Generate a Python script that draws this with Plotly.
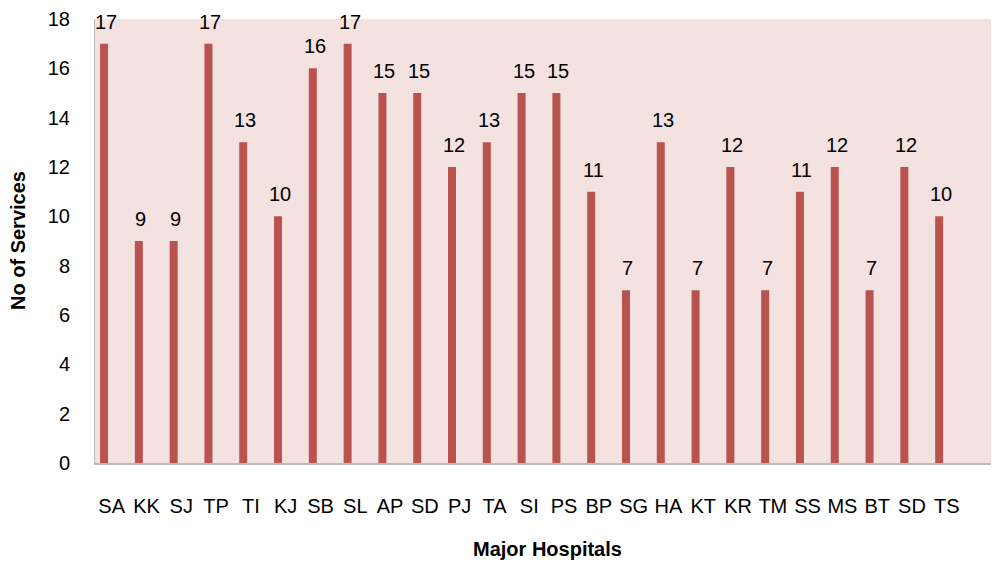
import plotly.graph_objects as go

hospitals = ["SA", "KK", "SJ", "TP", "TI", "KJ", "SB", "SL", "AP", "SD", "PJ", "TA", "SI",
             "PS", "BP", "SG", "HA", "KT", "KR", "TM", "SS", "MS", "BT", "SD", "TS"]
services = [17, 9, 9, 17, 13, 10, 16, 17, 15, 15, 12, 13, 15, 15, 11, 7, 13, 7, 12, 7, 11, 12, 7, 12, 10]
y_ticks = [0, 2, 4, 6, 8, 10, 12, 14, 16, 18]

positions = list(range(len(hospitals)))
label_positions = [p + 0.22 for p in positions]

FONT = "Liberation Sans, Arial, sans-serif"

fig = go.Figure()
fig.add_trace(go.Bar(
    x=positions, y=services, width=0.23,
    marker=dict(color="#B9534F", line=dict(width=0)),
    cliponaxis=False,
))

value_labels = [
    dict(x=p, y=v, xref="x", yref="y", text=str(v), showarrow=False,
         xanchor="center", yanchor="middle", yshift=22, xshift=2,
         font=dict(size=20, color="black"))
    for p, v in zip(positions, services)
]

fig.update_layout(
    width=991, height=555,
    margin=dict(l=87, r=0, t=11, b=100, autoexpand=False),
    paper_bgcolor="white", plot_bgcolor="#F4E2E1",
    showlegend=False,
    font=dict(family=FONT, size=20, color="black"),
    annotations=value_labels + [
        dict(text="<b>Major Hospitals</b>", xref="paper", yref="paper",
             x=0.5, y=0, xanchor="center", yanchor="middle", yshift=-86,
             showarrow=False, font=dict(size=20)),
        dict(text="<b>No of Services</b>", xref="paper", yref="paper",
             x=0, y=0.5, xanchor="center", yanchor="middle", xshift=-77,
             textangle=-90, showarrow=False, font=dict(size=20)),
    ],
)
fig.update_xaxes(
    range=[-0.26, 25.72], automargin=False,
    tickmode="array", tickvals=label_positions, ticktext=hospitals,
    tickfont=dict(size=20), ticks="", ticklabelstandoff=24,
    showgrid=False, zeroline=False,
    showline=True, linecolor="#BBBBBB", linewidth=1.5,
)
fig.update_yaxes(
    range=[0, 18], tickmode="array", tickvals=y_ticks, automargin=False,
    tickfont=dict(size=20), ticks="", ticklabelstandoff=20,
    showgrid=False, zeroline=False,
    showline=True, linecolor="#BBBBBB", linewidth=1,
)

fig.write_html("out.html")
